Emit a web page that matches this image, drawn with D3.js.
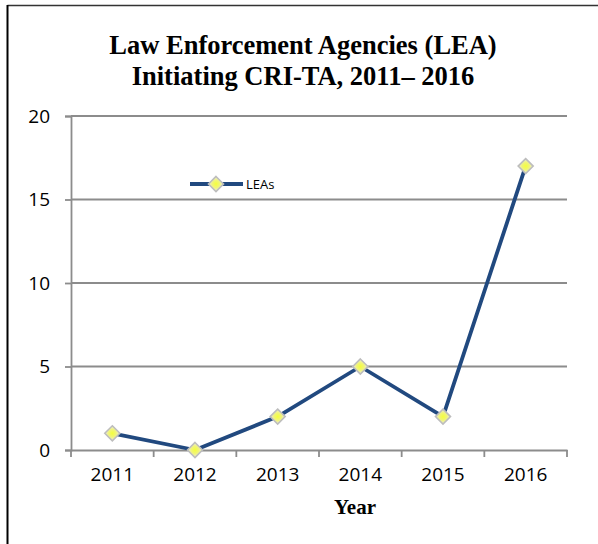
<!DOCTYPE html>
<html><head><meta charset="utf-8">
<script src="https://cdn.jsdelivr.net/npm/d3@7"></script>
<style>body{margin:0;background:#fff}svg{display:block}</style>
</head><body>
<script>
const years = ["2011","2012","2013","2014","2015","2016"];
const leas = [1, 0, 2, 5, 2, 17];
const yTicks = [0, 5, 10, 15, 20];
const titleLines = ["Law Enforcement Agencies (LEA)", "Initiating CRI-TA, 2011\u2013 2016"];

const W = 598, H = 544;
const svg = d3.select("body").append("svg").attr("width", W).attr("height", H);

// frame
svg.append("line").attr("x1", 7.5).attr("x2", W).attr("y1", 5.5).attr("y2", 5.5).attr("stroke", "#333").attr("stroke-width", 1.5);
svg.append("line").attr("x1", 7.5).attr("x2", 7.5).attr("y1", 5).attr("y2", H).attr("stroke", "#000").attr("stroke-width", 2);

const x = d3.scaleBand().domain(years).range([71, 567]);
const y = d3.scaleLinear().domain([0, 20]).range([450, 116]);

// title
svg.append("g").selectAll("text").data(titleLines).join("text")
  .attr("x", 303).attr("y", (d, i) => 54 + i * 31)
  .attr("text-anchor", "middle")
  .attr("font-family", "Liberation Serif, Times New Roman, serif")
  .attr("font-weight", "bold").attr("font-size", 26.5).attr("fill", "#000")
  .text(d => d);

// gridlines
svg.append("g").selectAll("line").data(yTicks.filter(d => d > 0)).join("line")
  .attr("x1", 71).attr("x2", 567).attr("y1", d => y(d)).attr("y2", d => y(d))
  .attr("stroke", "#8c8c8c").attr("stroke-width", 1.8);

// y axis
const yAxis = svg.append("g").attr("transform", "translate(71,0)")
  .call(d3.axisLeft(y).tickValues(yTicks).tickSize(6).tickPadding(15));
yAxis.select(".domain").attr("stroke", "#8c8c8c").attr("stroke-width", 1.8);
yAxis.selectAll(".tick line").attr("stroke", "#8c8c8c").attr("stroke-width", 1.8);
yAxis.selectAll("text").attr("font-family", "Open Sans, Liberation Sans, sans-serif")
  .attr("font-size", 19).attr("fill", "#000");

// x axis
const xAxis = svg.append("g").attr("transform", "translate(0,450)")
  .call(d3.axisBottom(x).tickSize(0).tickPadding(18));
xAxis.select(".domain").attr("stroke", "#8c8c8c").attr("stroke-width", 1.8);
xAxis.selectAll("text").attr("font-family", "Open Sans, Liberation Sans, sans-serif")
  .attr("font-size", 19).attr("fill", "#000");
// x tick marks at band boundaries
const bounds = years.map(d => x(d)).concat([x(years[years.length - 1]) + x.bandwidth()]);
svg.append("g").selectAll("line").data(bounds).join("line")
  .attr("x1", d => d).attr("x2", d => d).attr("y1", 450).attr("y2", 457)
  .attr("stroke", "#8c8c8c").attr("stroke-width", 1.8);

// axis title
svg.append("text").attr("x", 355).attr("y", 514).attr("text-anchor", "middle")
  .attr("font-family", "Liberation Serif, Times New Roman, serif")
  .attr("font-weight", "bold").attr("font-size", 21).text("Year");

// line
const cx = d => x(d) + x.bandwidth() / 2;
const line = d3.line().x((d, i) => cx(years[i])).y(d => y(d));
svg.append("path").datum(leas).attr("d", line)
  .attr("fill", "none").attr("stroke", "#21497f").attr("stroke-width", 3.8)
  .attr("stroke-linejoin", "round");

// marker def
const defs = svg.append("defs");
const grad = defs.append("radialGradient").attr("id", "mk");
grad.append("stop").attr("offset", "0%").attr("stop-color", "#f4ff3a");
grad.append("stop").attr("offset", "50%").attr("stop-color", "#f0f47a");
grad.append("stop").attr("offset", "100%").attr("stop-color", "#ececdf");

function marker(g) {
  g.append("path").attr("d", "M0,-7.5L7.5,0L0,7.5L-7.5,0Z")
    .attr("fill", "url(#mk)").attr("stroke", "#bdbdbd").attr("stroke-width", 1.6);
}
svg.append("g").selectAll("g").data(leas).join("g")
  .attr("transform", (d, i) => `translate(${cx(years[i])},${y(d)})`)
  .each(function () { marker(d3.select(this)); });

// legend
const lg = svg.append("g").attr("transform", "translate(190,184)");
lg.append("line").attr("x1", 0).attr("x2", 53).attr("stroke", "#21497f").attr("stroke-width", 3.8);
marker(lg.append("g").attr("transform", "translate(26,0)"));
lg.append("text").attr("x", 56).attr("y", 4.5)
  .attr("font-family", "Open Sans, Liberation Sans, sans-serif").attr("font-size", 13).text("LEAs");
</script>
</body></html>
